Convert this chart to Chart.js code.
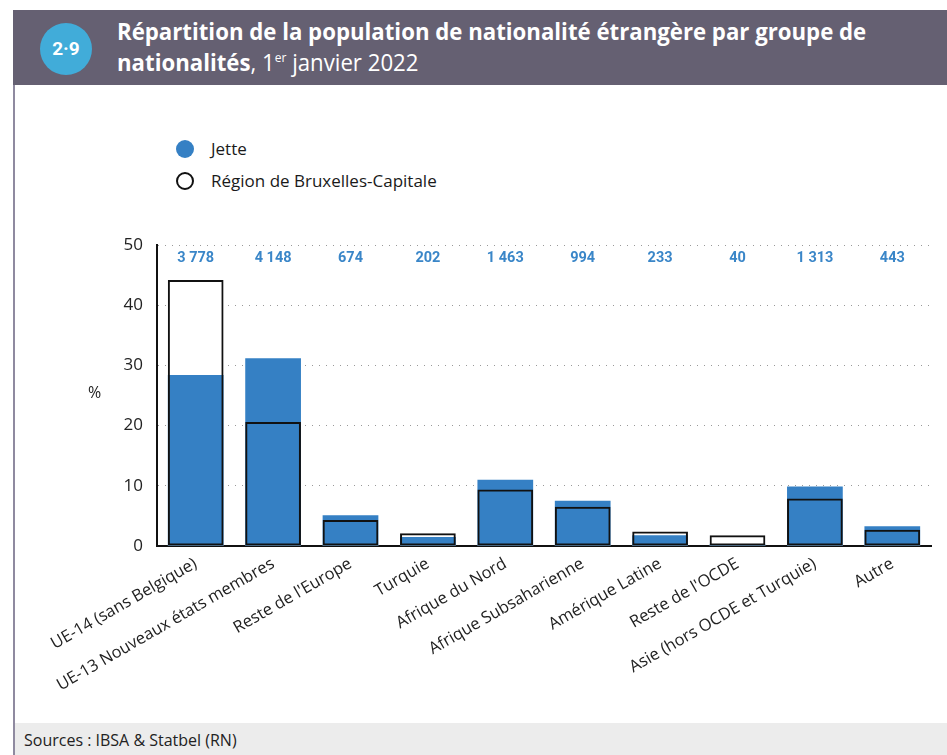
<!DOCTYPE html>
<html>
<head>
<meta charset="utf-8">
<script src="https://cdn.jsdelivr.net/npm/chart.js@4"></script>
<style>
  body { margin: 0; width: 947px; height: 755px; background: #fff; position: relative; overflow: hidden; font-family: "Open Sans", sans-serif; }
  #header { position: absolute; left: 13px; top: 10px; width: 934px; height: 75px; background: #656072; }
  #badge { position: absolute; left: 40px; top: 23px; width: 52px; height: 52px; border-radius: 50%; background: #41acd9; color: #fff; font: bold 19px Roboto, sans-serif; text-align: center; line-height: 52px; }
  #title { position: absolute; left: 117px; top: 15px; color: #fff; font: 24px/31px "Open Sans", sans-serif; white-space: nowrap; transform: scaleX(0.925); transform-origin: left top; }
  #title b { font-weight: bold; }
  #title sup { font-size: 13px; line-height: 0; }
  #leftline { position: absolute; left: 13px; top: 85px; width: 2px; height: 670px; background: #8f8aa0; }
  #footer { position: absolute; left: 15px; top: 723px; width: 932px; height: 32px; background: #ececec; }
  #footer span { position: absolute; left: 9px; top: 6px; font-size: 16px; color: #222; }
  .leg { position: absolute; left: 176px; font-size: 17px; color: #1a1a1a; }
  .leg i { display: inline-block; width: 18px; height: 18px; border-radius: 50%; vertical-align: -3px; margin-right: 17px; box-sizing: border-box; }
  #wrap { position: absolute; left: 15px; top: 86px; width: 932px; height: 636px; }
</style>
</head>
<body>
<div id="header">
</div>
<div id="badge">2·9</div>
<div id="title"><b>Répartition de la population de nationalité étrangère par groupe de</b><br><b>nationalités</b>, 1<sup>er</sup> janvier 2022</div>
<div id="leftline"></div>
<div class="leg" style="top:137px"><i style="background:#3580c4"></i>Jette</div>
<div class="leg" style="top:169px"><i style="border:2px solid #111;background:#fff"></i>Région de Bruxelles-Capitale</div>
<div id="wrap"><canvas id="chart"></canvas></div>
<div id="footer"><span>Sources : IBSA &amp; Statbel (RN)</span></div>

<script>
const categories = [
    'UE-14 (sans Belgique)', 'UE-13 Nouveaux états membres', "Reste de l'Europe", 'Turquie',
    'Afrique du Nord', 'Afrique Subsaharienne', 'Amérique Latine', "Reste de l'OCDE",
    'Asie (hors OCDE et Turquie)', 'Autre'
];
const jetteCounts = ['3 778', '4 148', '674', '202', '1 463', '994', '233', '40', '1 313', '443'];
const jette = [28.4, 31.2, 5.1, 1.5, 11.0, 7.5, 1.8, 0.3, 9.9, 3.3];
const region = [44.2, 20.6, 4.3, 2.1, 9.4, 6.5, 2.4, 1.8, 7.9, 2.7];
const yTicks = [0, 10, 20, 30, 40, 50];

const topLabels = {
    id: 'topLabels',
    afterDatasetsDraw(chart) {
        const ctx = chart.ctx;
        const x = chart.scales.x;
        ctx.save();
        ctx.fillStyle = '#3a86c8';
        ctx.font = 'bold 14.5px Roboto, sans-serif';
        ctx.textAlign = 'center';
        ctx.textBaseline = 'middle';
        jetteCounts.forEach((t, i) => {
            ctx.fillText(t, x.getPixelForValue(i), chart.chartArea.top + 13);
        });
        ctx.fillStyle = '#222';
        ctx.font = '16px "Open Sans", sans-serif';
        ctx.textAlign = 'left';
        ctx.fillText('%', 73, 307);
        ctx.restore();
    }
};

new Chart(document.getElementById('chart'), {
    type: 'bar',
    data: {
        labels: categories,
        datasets: [
            { label: 'outline', data: region, backgroundColor: 'rgba(0,0,0,0)', borderColor: '#111', borderWidth: 2, borderSkipped: false, order: 1 },
            { label: 'Jette', data: jette, backgroundColor: '#3580c4', borderWidth: 0, order: 2 },
            { label: 'Région de Bruxelles-Capitale', data: region, backgroundColor: '#fff', borderWidth: 0, order: 3 }
        ]
    },
    options: {
        responsive: true,
        maintainAspectRatio: false,
        animation: false,
        datasets: { bar: { grouped: false, barPercentage: 0.72, categoryPercentage: 1 } },
        layout: { padding: { top: 159, right: 16, left: 0, bottom: 0 } },
        plugins: { legend: { display: false }, tooltip: { enabled: false } },
        scales: {
            x: {
                afterFit(s) { s.height = 176; },
                grid: { display: false, drawTicks: false },
                border: { color: '#111', width: 2 },
                ticks: {
                    autoSkip: false, minRotation: 30, maxRotation: 30, padding: 8,
                    color: '#222', font: { family: '"Open Sans", sans-serif', size: 16.5 }
                }
            },
            y: {
                min: 0, max: 50,
                afterFit(s) { s.width = 142; },
                afterBuildTicks(s) { s.ticks = yTicks.map(v => ({ value: v })); },
                grid: { color: '#999', lineWidth: 1, tickLength: 0 },
                border: { color: '#111', width: 2, dash: [1, 6] },
                ticks: { padding: 14, color: '#222', font: { family: '"Open Sans", sans-serif', size: 17 } }
            }
        }
    },
    plugins: [topLabels]
});
</script>
</body>
</html>
